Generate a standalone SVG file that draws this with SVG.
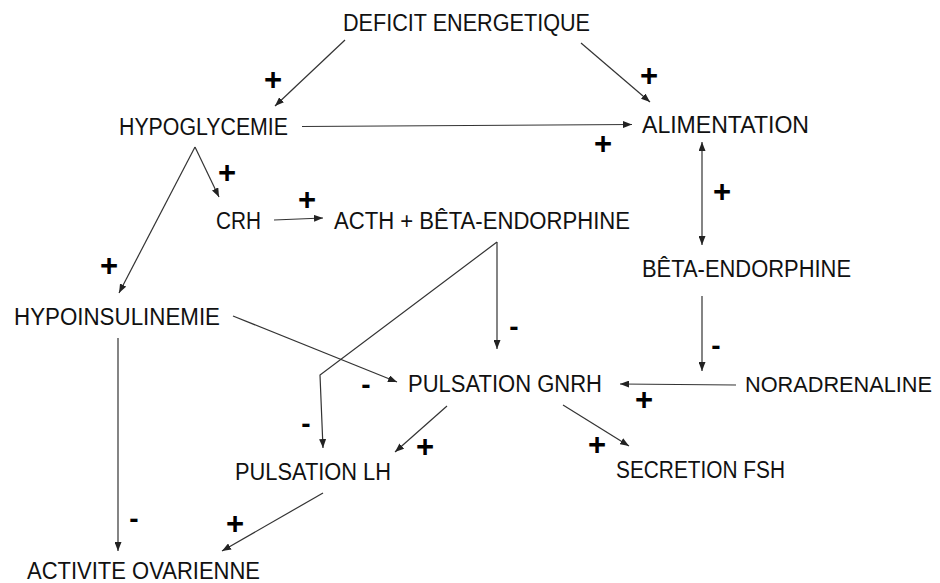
<svg xmlns="http://www.w3.org/2000/svg" width="940" height="583" viewBox="0 0 940 583">
<style>
.t{font-family:"Liberation Sans",Arial,sans-serif;font-size:23.5px;fill:#111}
.s{font-family:"Liberation Sans",Arial,sans-serif;font-weight:bold;font-size:31px;fill:#000;text-anchor:middle}
.m{font-family:"Liberation Sans",Arial,sans-serif;font-weight:bold;font-size:28px;fill:#000;text-anchor:middle}
.c{fill:none;stroke:#333;stroke-width:1.2;marker-end:url(#ah)}
</style>
<defs>
<marker id="ah" markerUnits="userSpaceOnUse" markerWidth="9" markerHeight="7" refX="9" refY="3.5" orient="auto-start-reverse">
<path d="M0,0 L9,3.5 L0,7 z" fill="#222"/>
</marker>
</defs>
<rect width="940" height="583" fill="#fff"/>
<g id="connectors">
<line class="c" x1="345" y1="40" x2="275" y2="106"/>
<line class="c" x1="581" y1="43" x2="650" y2="102"/>
<line class="c" x1="302" y1="126.5" x2="632" y2="124.5"/>
<line class="c" x1="702" y1="142" x2="702" y2="245" style="marker-start:url(#ah)"/>
<line class="c" x1="702" y1="296" x2="702" y2="371"/>
<line class="c" x1="736" y1="385" x2="620" y2="384"/>
<line class="c" x1="195" y1="147" x2="119" y2="293"/>
<line class="c" x1="195" y1="147" x2="219" y2="197"/>
<line class="c" x1="274" y1="220" x2="323" y2="218"/>
<line class="c" x1="233" y1="316" x2="397" y2="382"/>
<line class="c" x1="118" y1="338" x2="118" y2="551"/>
<line class="c" x1="497" y1="242" x2="497" y2="349"/>
<polyline class="c" points="497,242 320,375 323,448"/>
<line class="c" x1="447" y1="406" x2="395" y2="452"/>
<line class="c" x1="563" y1="405" x2="629" y2="446"/>
<line class="c" x1="323" y1="493" x2="222" y2="551"/>
</g>
<g id="signs">
<text class="s" x="273" y="90">+</text>
<text class="s" x="649" y="86">+</text>
<text class="s" x="603" y="154">+</text>
<text class="s" x="722" y="202">+</text>
<text class="s" x="227" y="183">+</text>
<text class="s" x="307" y="210">+</text>
<text class="s" x="109" y="276">+</text>
<text class="m" x="514" y="336">-</text>
<text class="m" x="716" y="355">-</text>
<text class="m" x="366" y="394">-</text>
<text class="s" x="644" y="410">+</text>
<text class="m" x="306" y="433">-</text>
<text class="s" x="425" y="457">+</text>
<text class="s" x="597" y="455">+</text>
<text class="m" x="134" y="528">-</text>
<text class="s" x="235" y="534">+</text>
</g>
<g id="deficit"><text class="t" x="343" y="31" textLength="247" lengthAdjust="spacingAndGlyphs">DEFICIT ENERGETIQUE</text></g>
<g id="hypoglycemie"><text class="t" x="119" y="135" textLength="169" lengthAdjust="spacingAndGlyphs">HYPOGLYCEMIE</text></g>
<g id="alimentation"><text class="t" x="642" y="133" textLength="167" lengthAdjust="spacingAndGlyphs">ALIMENTATION</text></g>
<g id="crh"><text class="t" x="216" y="229" textLength="45" lengthAdjust="spacingAndGlyphs">CRH</text></g>
<g id="acth"><text class="t" x="334" y="229" textLength="296" lengthAdjust="spacingAndGlyphs">ACTH + BÊTA-ENDORPHINE</text></g>
<g id="beta"><text class="t" x="642" y="277" textLength="209" lengthAdjust="spacingAndGlyphs">BÊTA-ENDORPHINE</text></g>
<g id="hypoinsulinemie"><text class="t" x="14" y="325" textLength="206" lengthAdjust="spacingAndGlyphs">HYPOINSULINEMIE</text></g>
<g id="gnrh"><text class="t" x="408" y="392" textLength="194" lengthAdjust="spacingAndGlyphs">PULSATION GNRH</text></g>
<g id="noradrenaline"><text class="t" x="745" y="392" style="font-size:22px" textLength="187" lengthAdjust="spacingAndGlyphs">NORADRENALINE</text></g>
<g id="lh"><text class="t" x="235" y="480" textLength="156" lengthAdjust="spacingAndGlyphs">PULSATION LH</text></g>
<g id="fsh"><text class="t" x="616" y="478" textLength="169" lengthAdjust="spacingAndGlyphs">SECRETION FSH</text></g>
<g id="ovarienne"><text class="t" x="27" y="579" textLength="233" lengthAdjust="spacingAndGlyphs">ACTIVITE OVARIENNE</text></g>
</svg>
